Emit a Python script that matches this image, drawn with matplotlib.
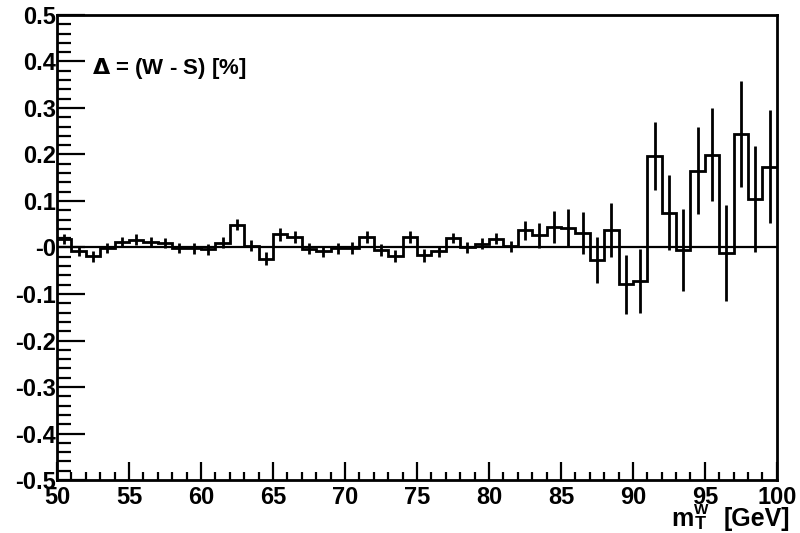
import numpy as np
import matplotlib
matplotlib.use("Agg")
import matplotlib.pyplot as plt
from matplotlib.ticker import MultipleLocator

plt.rcParams['font.family'] = ['Liberation Sans', 'DejaVu Sans']
plt.rcParams['font.weight'] = 'bold'

# 1 GeV bins from 50 to 100
bin_edges = list(range(50, 101))
delta = [0.018, -0.008, -0.019, -0.001, 0.011, 0.017, 0.011, 0.010, -0.001, -0.002,
         -0.004, 0.010, 0.049, 0.004, -0.024, 0.028, 0.023, -0.003, -0.008, -0.002,
         -0.001, 0.023, -0.006, -0.019, 0.023, -0.017, -0.008, 0.021, 0.000, 0.008,
         0.019, 0.003, 0.037, 0.026, 0.044, 0.043, 0.032, -0.027, 0.038, -0.079,
         -0.072, 0.196, 0.075, -0.006, 0.165, 0.199, -0.011, 0.244, 0.104, 0.174]
delta_err = [0.011, 0.011, 0.012, 0.011, 0.011, 0.011, 0.011, 0.011, 0.011, 0.011,
             0.012, 0.012, 0.012, 0.012, 0.014, 0.013, 0.013, 0.012, 0.012, 0.012,
             0.012, 0.013, 0.013, 0.013, 0.013, 0.014, 0.012, 0.011, 0.012, 0.012,
             0.012, 0.012, 0.020, 0.027, 0.034, 0.039, 0.045, 0.050, 0.058, 0.063,
             0.069, 0.073, 0.081, 0.088, 0.094, 0.100, 0.103, 0.114, 0.114, 0.122]
y_ticks = [-0.5, -0.4, -0.3, -0.2, -0.1, 0.0, 0.1, 0.2, 0.3, 0.4, 0.5]
y_tick_labels = ["-0.5", "-0.4", "-0.3", "-0.2", "-0.1", "-0", "0.1", "0.2", "0.3", "0.4", "0.5"]
x_ticks = [50, 55, 60, 65, 70, 75, 80, 85, 90, 95, 100]

edges = np.array(bin_edges, dtype=float)
centers = 0.5 * (edges[:-1] + edges[1:])

fig = plt.figure(figsize=(8, 5.33), dpi=100)
ax = fig.add_axes([0.0713, 0.0994, 0.8998, 0.8725])

ax.axhline(0, color='black', lw=1.6, zorder=1)
ax.stairs(delta, edges, baseline=None, color='black', lw=2, zorder=3)
ax.errorbar(centers, delta, yerr=delta_err, fmt='none', ecolor='black',
            elinewidth=2, capsize=0, zorder=3)

ax.set_xlim(50, 100)
ax.set_ylim(-0.5, 0.5)
ax.set_xticks(x_ticks)
ax.set_xticklabels([str(t) for t in x_ticks])
ax.set_yticks(y_ticks)
ax.set_yticklabels(y_tick_labels)
ax.xaxis.set_minor_locator(MultipleLocator(1))
ax.yaxis.set_minor_locator(MultipleLocator(0.02))

ax.tick_params(axis='both', which='both', direction='in', top=False, right=False)
ax.tick_params(axis='x', which='major', length=13, width=1.6, labelsize=17, pad=4)
ax.tick_params(axis='x', which='minor', length=6, width=1.6)
ax.tick_params(axis='y', which='major', length=20, width=1.6, labelsize=17, pad=1)
ax.tick_params(axis='y', which='minor', length=10, width=1.6)
for lbl in ax.get_xticklabels() + ax.get_yticklabels():
    lbl.set_fontweight('bold')
for sp in ax.spines.values():
    sp.set_linewidth(2)

ax.text(0.048, 0.885, r"$\Delta$ = (W - S) [%]", transform=ax.transAxes,
        fontsize=16, fontweight='bold', ha='left', va='center')

# x axis title m_T^W [GeV], put together piece by piece like ROOT's TLatex
fig.text(0.867, 0.0135, "m", fontsize=18, fontweight='bold', ha='right', va='baseline')
fig.text(0.868, 0.0075, "T", fontsize=13, fontweight='bold', ha='left', va='baseline')
fig.text(0.868, 0.035, "W", fontsize=11, fontweight='bold', ha='left', va='baseline')
fig.text(0.988, 0.0135, "[GeV]", fontsize=18, fontweight='bold', ha='right', va='baseline')

fig.savefig("out.png", dpi=100)
